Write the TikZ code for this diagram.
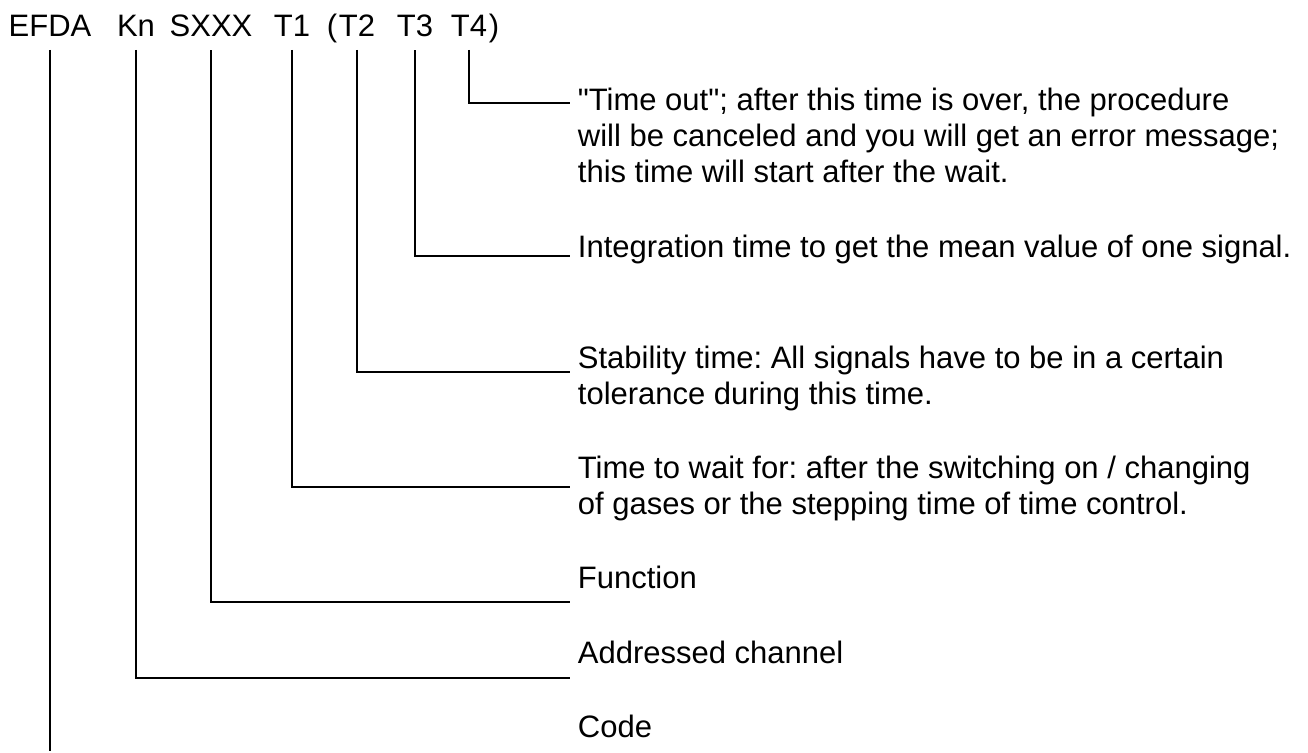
\documentclass[tikz,border=0pt]{standalone}
\usepackage{fontspec}
\setmainfont{Liberation Sans}[Ligatures=TeXOff]
\usetikzlibrary{positioning}
\frenchspacing

\begin{document}
\begin{tikzpicture}[x=0.5pt, y=-0.5pt, line width=0.9pt,
  font=\fontsize{15.5}{18}\selectfont,
  Tok/.style={anchor=base, inner xsep=0pt, inner ysep=6.5pt},
  Lbl/.style={anchor=base west, align=left, inner sep=0pt}]
\useasboundingbox (0,0) rectangle (1308,752);
% the command string, one node per field
\node[Tok] (efda) at (50,36)  {EFDA};
\node[Tok] (kn)   at (136,36) {Kn};
\node[Tok] (sxxx) at (211,36) {SXXX};
\node[Tok] (t1)   at (292,36) {T1};
\node[Tok] (t2)   at (357,36) {T2};
\node[Tok] (t3)   at (415,36) {T3};
\node[Tok] (t4)   at (469,36) {T4};
\node[anchor=base east, inner sep=0pt] (lpar) at (t2.base west) {(};
\node[anchor=base west, inner sep=0pt] (rpar) at (t4.base east) {)};
% explanations (base = baseline of the last line)
\node[Lbl] (tout) at (577,182) {"Time out"; after this time is over, the procedure\\
  will be canceled and you will get an error message;\\
  this time will start after the wait.};
\node[Lbl] (integ) at (577,257) {Integration time to get the mean value of one signal.};
\node[Lbl] (stab)  at (577,404) {Stability time: All signals have to be in a certain\\
  tolerance during this time.};
\node[Lbl] (wait)  at (577,514) {Time to wait for: after the switching on / changing\\
  of gases or the stepping time of time control.};
\node[Lbl] (func)  at (577,588) {Function};
\node[Lbl] (addr)  at (577,663) {Addressed channel};
\node[Lbl] (code)  at (577,737) {Code};
% leader lines
\coordinate (e4) at (570,103);
\coordinate (e3) at (570,256);
\coordinate (e2) at (570,372);
\coordinate (e1) at (570,487);
\coordinate (es) at (570,602);
\coordinate (ek) at (570,678);
\coordinate (ee) at (50,751);
\draw (t4.south) |- (e4);
\draw (t3.south) |- (e3);
\draw (t2.south) |- (e2);
\draw (t1.south) |- (e1);
\draw (sxxx.south) |- (es);
\draw (kn.south) |- (ek);
\draw (efda.south) -- (ee);
\end{tikzpicture}
\end{document}
